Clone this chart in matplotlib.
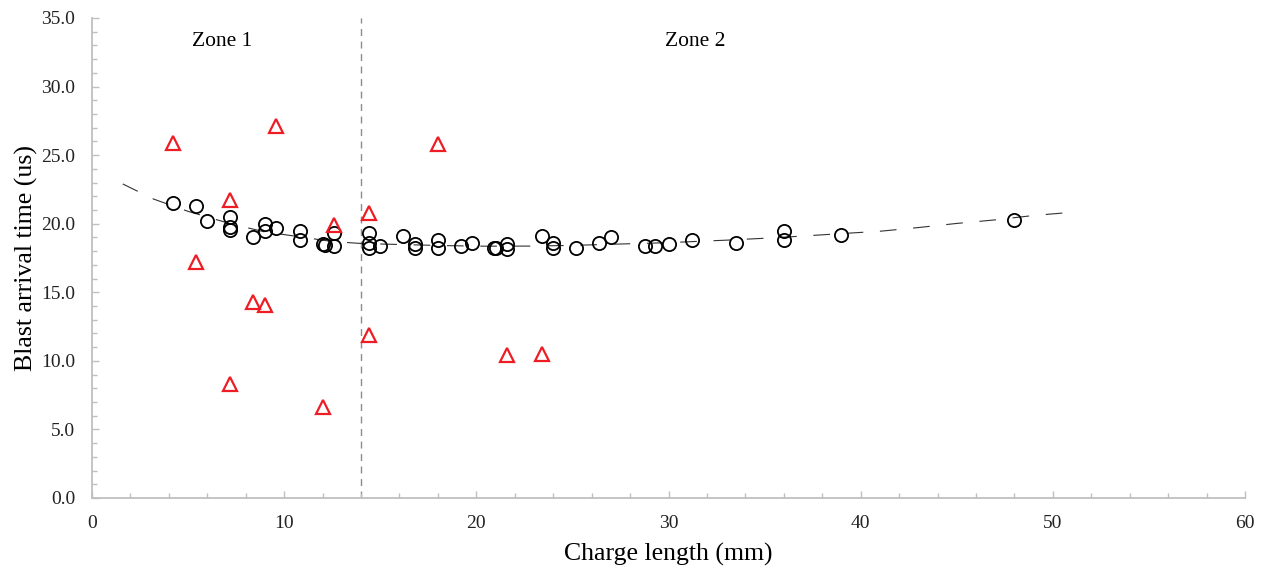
import numpy as np
import matplotlib
matplotlib.use("Agg")
import matplotlib.pyplot as plt
from matplotlib.ticker import MultipleLocator, FormatStrFormatter

# Measured blast arrival times (circles)
charge_len_meas = [4.2, 5.4, 6.0, 7.2, 7.2, 7.2, 8.4, 9.0, 9.0, 9.6, 10.8, 10.8,
                   12.0, 12.1, 12.6, 12.6, 14.4, 14.4, 14.4, 15.0, 16.2, 16.8, 16.8,
                   18.0, 18.0, 19.2, 19.8, 20.9, 21.0, 21.6, 21.6, 23.4, 24.0, 24.0,
                   25.2, 26.4, 27.0, 28.8, 29.3, 30.0, 31.2, 33.5, 36.0, 36.0, 39.0, 48.0]
arrival_meas = [21.5, 21.3, 20.2, 20.5, 19.75, 19.55, 19.0, 19.95, 19.5, 19.7, 19.5, 18.8,
                18.5, 18.45, 19.3, 18.4, 19.3, 18.6, 18.25, 18.4, 19.1, 18.5, 18.25,
                18.8, 18.2, 18.4, 18.6, 18.25, 18.2, 18.5, 18.15, 19.1, 18.6, 18.2,
                18.2, 18.6, 19.0, 18.4, 18.4, 18.5, 18.8, 18.6, 19.5, 18.8, 19.2, 20.3]

# Outliers (red triangles)
charge_len_out = [4.2, 5.4, 7.2, 7.2, 8.4, 9.0, 9.6, 12.0, 12.6, 14.4, 14.4, 18.0, 21.6, 23.4]
arrival_out = [25.9, 17.2, 21.7, 8.3, 14.3, 14.1, 27.1, 6.6, 19.9, 20.8, 11.9, 25.8, 10.4, 10.5]

# Trendline
trend_x = [1.6, 3.2, 5.0, 7.2, 9.0, 10.7, 12.5, 14.0, 16.1, 18.5, 20.5, 23.0, 25.0,
           27.0, 30.0, 33.0, 35.0, 37.0, 39.0, 41.0, 43.0, 45.0, 47.0, 49.0, 50.7]
trend_y = [22.9, 21.8, 20.9, 20.0, 19.4, 19.07, 18.7, 18.56, 18.48, 18.4, 18.36, 18.37, 18.42,
           18.5, 18.62, 18.8, 18.94, 19.1, 19.28, 19.45, 19.72, 20.02, 20.28, 20.6, 20.8]

zone_boundary = 14.0
zone_labels = ["Zone 1", "Zone 2"]
zone_label_x = [6.75, 31.4]

plt.rcParams['font.family'] = ['Liberation Serif', 'DejaVu Serif']

fig = plt.figure(figsize=(12.66, 5.72), dpi=100)
ax = fig.add_axes([92/1266, 1-498/572, (1245-92)/1266, (498-18)/572])

ax.plot(trend_x, trend_y, color='#333333', lw=0.8, dashes=(15, 15), zorder=2)

ax.plot(charge_len_meas, arrival_meas, linestyle='none', marker='o', ms=9.5,
        mfc='none', mec='black', mew=1.3, zorder=3)
ax.plot(charge_len_out, arrival_out, linestyle='none', marker='^', ms=10,
        mfc='none', mec='#ee1c24', mew=1.6, zorder=3)

ax.axvline(zone_boundary, color='#8c8c8c', lw=1.0, dashes=(5, 4), zorder=1)

for lbl, zx in zip(zone_labels, zone_label_x):
    ax.text(zx, 33.3, lbl, ha='center', va='center', fontsize=15.5, color='black')

ax.set_xlim(0, 60)
ax.set_ylim(0, 35)
ax.xaxis.set_major_locator(MultipleLocator(10))
ax.xaxis.set_minor_locator(MultipleLocator(2))
ax.yaxis.set_major_locator(MultipleLocator(5))
ax.yaxis.set_minor_locator(MultipleLocator(1))
ax.yaxis.set_major_formatter(FormatStrFormatter('%.1f'))

for s in ['top', 'right']:
    ax.spines[s].set_visible(False)
for s in ['left', 'bottom']:
    ax.spines[s].set_color('#bfbfbf')
    ax.spines[s].set_linewidth(1.3)

ax.tick_params(which='major', direction='in', length=5, width=1, color='#bfbfbf',
               labelsize=14, pad=12, labelcolor='#222222')
ax.tick_params(which='minor', direction='in', length=3.5, width=1, color='#bfbfbf')

ax.set_xlabel('Charge length (mm)', fontsize=18.5, labelpad=8)
ax.set_ylabel('Blast arrival time (us)', fontsize=18.6, labelpad=2)

fig.savefig('out.png', dpi=100)
